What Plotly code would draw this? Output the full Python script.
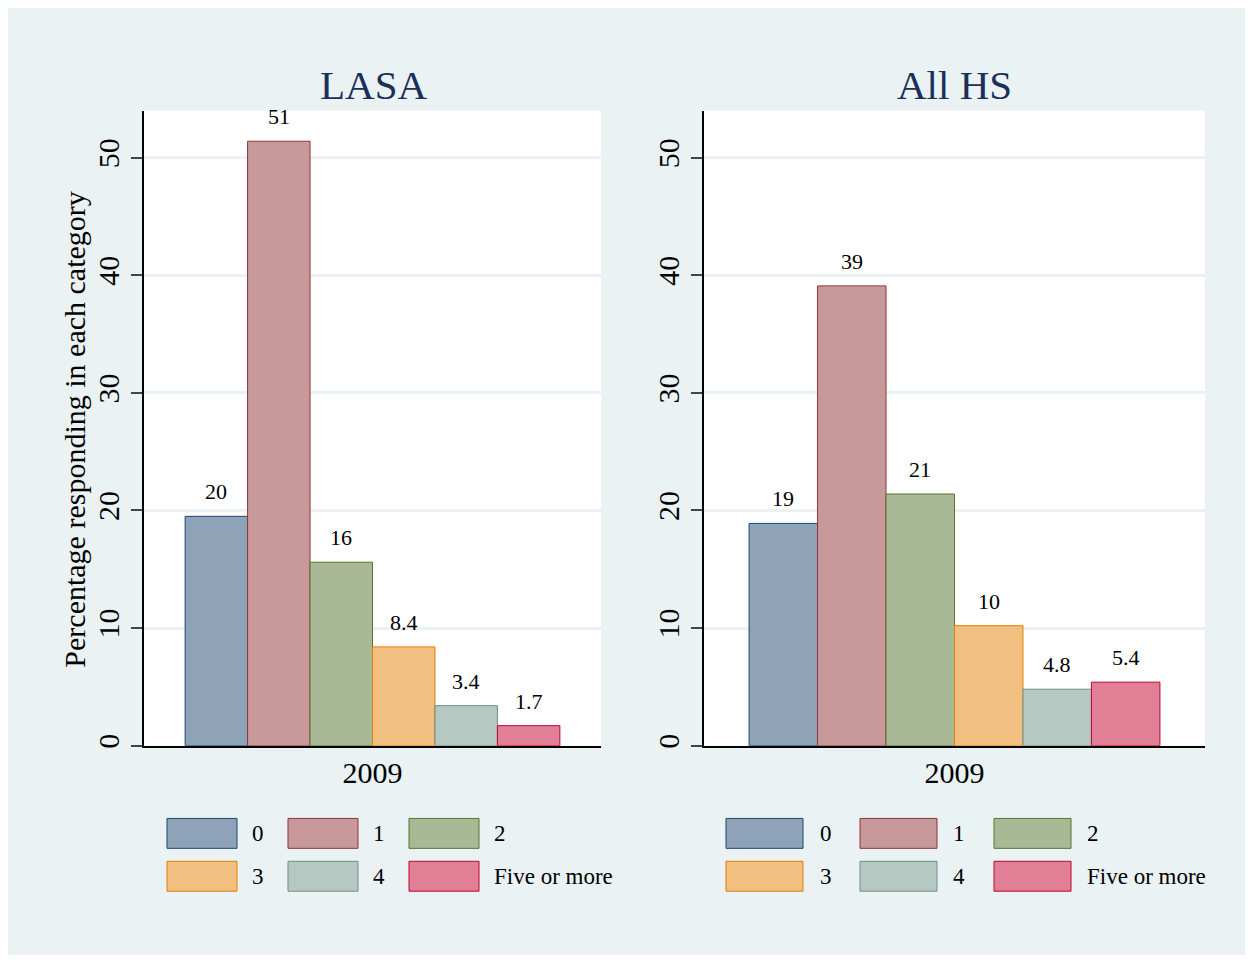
import plotly.graph_objects as go

categories = ["0", "1", "2", "3", "4", "Five or more"]
year_label = ["2009"]
lasa_values = [19.5, 51.4, 15.6, 8.4, 3.4, 1.7]
allhs_values = [18.9, 39.1, 21.4, 10.2, 4.8, 5.4]
panel_titles = ["LASA", "All HS"]
y_ticks = [0, 10, 20, 30, 40, 50]

fills = ["#8EA3B8", "#C8999B", "#AAB995", "#F1BF80", "#B6C8C2", "#E07F96"]
borders = ["#1a476f", "#90353b", "#55752f", "#e37e00", "#6e8e84", "#c10534"]

W, H = 1237, 947
OFF = 8  # page body margin
FONT = "Liberation Serif"
BG = "#EAF2F3"
BARGAP = 0.18


def px(x):
    return (x - OFF) / W


def py(y):
    return 1 - (y - OFF) / H


fig = go.Figure()
annotations = []
n = len(categories)
for panel, (vals, xa, ya) in enumerate([(lasa_values, "x", "y"), (allhs_values, "x2", "y2")]):
    for i, cat in enumerate(categories):
        fig.add_trace(go.Bar(
            x=year_label, y=[vals[i]], name=cat, xaxis=xa, yaxis=ya,
            marker=dict(color=fills[i], line=dict(color=borders[i], width=1)),
            showlegend=False,
        ))
        # value label above each bar (category axis: category 0 at x=0)
        annotations.append(dict(
            text=f"{vals[i]:.2g}", xref=xa, yref=ya,
            x=(i + 0.5 - n / 2) * (1 - BARGAP) / n, y=vals[i],
            xanchor="center", yanchor="bottom", yshift=10, showarrow=False,
            font=dict(family=FONT, size=22, color="black"),
        ))

ydom = [py(748), py(111)]
axis_common = dict(showline=True, linecolor="black", linewidth=1.5)
yaxis_common = dict(domain=ydom, range=[0, 54], tickvals=y_ticks, ticks="outside", ticklen=11,
                    tickwidth=1.5, tickangle=-90, tickfont=dict(size=30), showgrid=True,
                    gridcolor=BG, gridwidth=2.5, zeroline=False, **axis_common)
fig.update_layout(
    width=W, height=H,
    margin=dict(l=0, r=0, t=0, b=0),
    paper_bgcolor=BG, plot_bgcolor="white",
    barmode="group", bargap=BARGAP, bargroupgap=0,
    font=dict(family=FONT, color="black"),
    xaxis=dict(domain=[px(144), px(601)], ticks="", tickfont=dict(size=30), **axis_common),
    xaxis2=dict(domain=[px(704), px(1205)], ticks="", tickfont=dict(size=30), **axis_common),
    yaxis=dict(**yaxis_common),
    yaxis2=dict(anchor="x2", **yaxis_common),
)

shapes = []
# Panel titles
for t, cx in zip(panel_titles, [373, 954]):
    annotations.append(dict(text=t, x=px(cx), y=py(85), xref="paper", yref="paper",
                            xanchor="center", yanchor="middle", showarrow=False,
                            font=dict(size=41, color="#1a2f5a", family=FONT)))
# Y axis title
annotations.append(dict(text="Percentage responding in each category", x=px(75), y=py(431),
                        xref="paper", yref="paper", xanchor="center", yanchor="middle",
                        textangle=-90, showarrow=False,
                        font=dict(size=30, color="black", family=FONT)))

# Legends (3 columns x 2 rows per panel)
legend_cols = [
    ([167, 288, 409], 70, [250, 371, 492]),
    ([726, 860, 994], 77, [818, 951, 1085]),
]
rows_y = [(821, 851), (864, 894)]
for colx, sw, labx in legend_cols:
    for i, cat in enumerate(categories):
        r, c = divmod(i, 3)
        y0, y1 = rows_y[r]
        shapes.append(dict(type="rect", xref="paper", yref="paper",
                           x0=px(colx[c]), x1=px(colx[c] + sw), y0=py(y1), y1=py(y0),
                           fillcolor=fills[i], line=dict(color=borders[i], width=1)))
        annotations.append(dict(text=cat, x=px(labx[c]), y=py((y0 + y1) / 2), xref="paper",
                                yref="paper", xanchor="left", yanchor="middle", showarrow=False,
                                font=dict(size=23, color="black", family=FONT)))

fig.update_layout(annotations=annotations, shapes=shapes)
fig.write_html("out.html")
